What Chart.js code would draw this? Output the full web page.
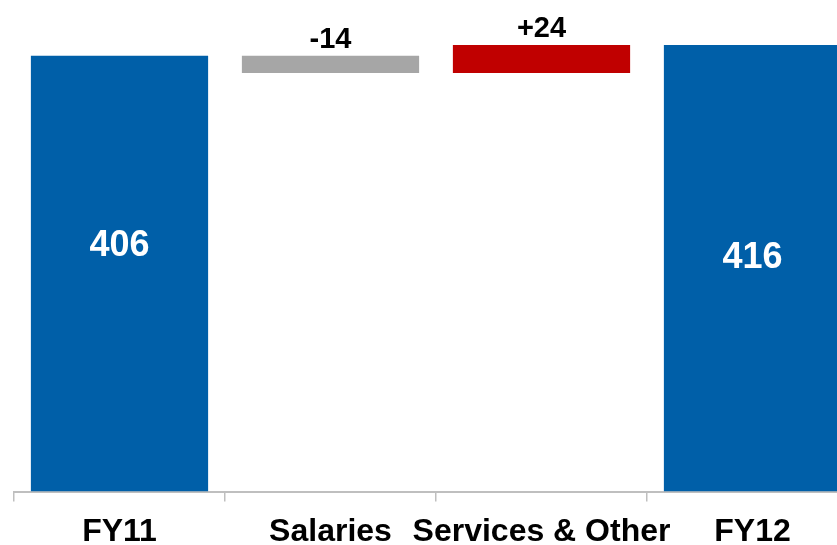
<!DOCTYPE html>
<html>
<head>
<meta charset="utf-8">
<script src="https://cdn.jsdelivr.net/npm/chart.js@4/dist/chart.umd.min.js"></script>
<style>
  html, body { margin: 0; padding: 0; background: #fff; overflow: hidden; }
  #wrap { width: 858px; height: 545px; }
</style>
</head>
<body>
<div id="wrap"><canvas id="bridgeChart" width="858" height="545"></canvas></div>
<script>
const categories = ['FY11', 'Salaries', 'Services & Other', 'FY12'];
const barStart = [0, 390, 390, 0];
const barEnd = [406, 406, 416, 416];
const valueLabels = ['406', '-14', '+24', '416'];
const barColors = ['#005FA8', '#A6A6A6', '#C00000', '#005FA8'];

const FONT = "'Liberation Sans', Arial, sans-serif";

// draw the numbers: totals inside the blue bars, deltas on top
const valueLabelPlugin = {
    id: 'valueLabels',
    afterDatasetsDraw(chart) {
        const ctx = chart.ctx
        const meta = chart.getDatasetMeta(0)
        const insideShift = [28, 0, 0, 10]
        ctx.save()
        ctx.textAlign = 'center'
        meta.data.forEach(function(bar, i){
            const top = Math.min(bar.y, bar.base)
            const bottom = Math.max(bar.y, bar.base)
            if (barStart[i] === 0) {
                ctx.fillStyle = '#ffffff'
                ctx.font = 'bold 36px ' + FONT
                ctx.textBaseline = 'middle'
                ctx.fillText(valueLabels[i], bar.x, (top + bottom) / 2 - insideShift[i])
            } else {
                ctx.fillStyle = '#000000'
                ctx.font = 'bold 29px ' + FONT
                ctx.textBaseline = 'alphabetic'
                ctx.fillText(valueLabels[i], bar.x, top - 8)
            }
        })
        ctx.restore()
    }
}

const chart = new Chart(document.getElementById('bridgeChart').getContext('2d'), {
    type: 'bar',
    data: {
        labels: categories,
        datasets: [{
            data: barStart.map(function(s, i){ return [s, barEnd[i]] }),
            backgroundColor: barColors,
            borderWidth: 0,
            barPercentage: 0.84,
            categoryPercentage: 1.0
        }]
    },
    options: {
        responsive: false,
        animation: false,
        devicePixelRatio: 1,
        layout: { padding: { left: 14, right: 0, top: 0, bottom: -18 } },
        plugins: {
            legend: { display: false },
            tooltip: { enabled: false }
        },
        scales: {
            x: {
                grid: {
                    display: true,
                    drawOnChartArea: false,
                    drawTicks: true,
                    tickLength: 10,
                    color: '#BFBFBF',
                    lineWidth: 1.5
                },
                border: { display: true, color: '#BFBFBF', width: 2 },
                ticks: {
                    color: '#000000',
                    padding: 23.5,
                    maxRotation: 0,
                    autoSkip: false,
                    font: { family: FONT, size: 32, weight: 'bold', lineHeight: 0.45 }
                }
            },
            y: {
                display: false,
                min: 0,
                max: 458
            }
        }
    },
    plugins: [valueLabelPlugin]
});
</script>
</body>
</html>
